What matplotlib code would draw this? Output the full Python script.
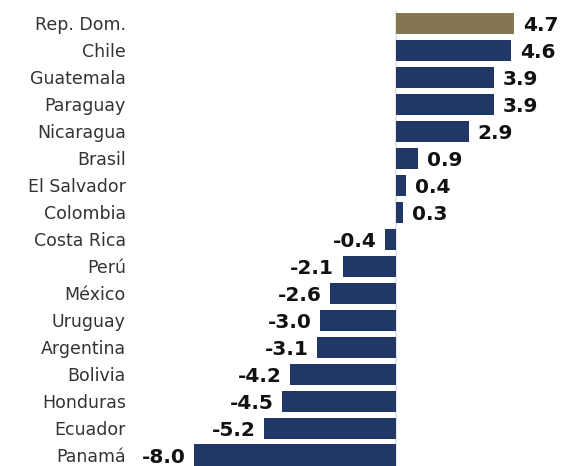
import matplotlib
matplotlib.use("Agg")
import matplotlib.pyplot as plt

countries = ["Rep. Dom.", "Chile", "Guatemala", "Paraguay", "Nicaragua", "Brasil",
             "El Salvador", "Colombia", "Costa Rica", "Perú", "México", "Uruguay",
             "Argentina", "Bolivia", "Honduras", "Ecuador", "Panamá"]
values = [4.7, 4.6, 3.9, 3.9, 2.9, 0.9, 0.4, 0.3, -0.4, -2.1, -2.6, -3.0, -3.1,
          -4.2, -4.5, -5.2, -8.0]
highlight = "Rep. Dom."

GOLD = "#857550"
NAVY = "#213765"
colors = [GOLD if c == highlight else NAVY for c in countries]

W, H = 561, 466
fig = plt.figure(figsize=(W / 100, H / 100), dpi=100)
left_px = 130
ax = fig.add_axes([left_px / W, 0, (W - left_px) / W, 1])

zero_px = 395.5
scale = 25.2
ax.set_xlim(-(zero_px - left_px) / scale, (W - zero_px) / scale)
ax.set_ylim(16 + (466 - 455) / 27, -23.5 / 27)

ypos = list(range(len(countries)))
ax.plot([0, 0], [-0.45, 17], color="#dde0e6", lw=1.2, zorder=1)
ax.barh(ypos, values, height=0.78, color=colors, zorder=2)

for y, v in zip(ypos, values):
    off = 6.5 if v >= 0 else -6.0
    ax.annotate(f"{v:.1f}", xy=(v, y), xytext=(off, 0), textcoords="offset points",
                ha="left" if v >= 0 else "right", va="center_baseline",
                fontsize=14.5, fontweight="bold", family="DejaVu Sans", color="#111111")

ax.set_yticks(ypos)
ax.set_yticklabels(countries, family="DejaVu Sans", fontsize=12.5, color="#333333")
ax.tick_params(axis="y", length=0, pad=3)
ax.set_xticks([])
for s in ax.spines.values():
    s.set_visible(False)

fig.savefig("out.png", dpi=100)
